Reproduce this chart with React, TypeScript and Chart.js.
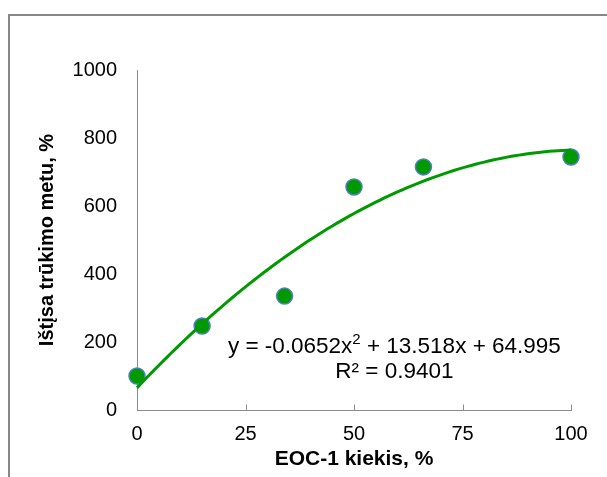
import React, { useEffect, useRef } from "react";
import { Chart, registerables } from "chart.js";

Chart.register(...registerables);

const xValues = [0, 15, 34, 50, 66, 100];
const yValues = [100, 247, 335, 656, 715, 744];
const trendCoefficients = [-0.0652, 13.518, 64.995]; // a x^2 + b x + c (from the chart's equation)
const trendXs = Array.from({ length: 101 }, (_, i) => i);
const xTicks = [0, 25, 50, 75, 100];
const yTicks = [0, 200, 400, 600, 800, 1000];
const xTitle = "EOC-1 kiekis, %";
const yTitle = "Ištįsa trūkimo metu, %";
const eqLine1a = "y = -0.0652x";
const eqLine1sup = "2";
const eqLine1b = " + 13.518x + 64.995";
const eqLine2 = "R² = 0.9401";

const FONT = "'Liberation Sans', Arial, sans-serif";

export default function App() {
  const ref = useRef<HTMLCanvasElement | null>(null);
  useEffect(() => {
    if (!ref.current) return;
    const [a, b, c] = trendCoefficients;
    const trend = trendXs.map((x) => ({ x, y: a * x * x + b * x + c }));
    const points = xValues.map((x, i) => ({ x, y: yValues[i] }));

    const decor = {
      id: "decor",
      beforeDraw(chart: any) {
        const ctx = chart.ctx;
        ctx.save();
        ctx.strokeStyle = "#878787";
        ctx.lineWidth = 2;
        ctx.beginPath();
        ctx.moveTo(9, 477);
        ctx.lineTo(9, 15);
        ctx.lineTo(607, 15);
        ctx.stroke();
        ctx.restore();
      },
      afterDraw(chart: any) {
        const ctx = chart.ctx;
        const xs = chart.scales.x;
        const ys = chart.scales.y;
        ctx.save();
        ctx.strokeStyle = "#8c8c8c";
        ctx.lineWidth = 1;
        const base = Math.round(ys.getPixelForValue(0)) + 0.5;
        xTicks.forEach((v) => {
          if (v === 0) return;
          const px = Math.round(xs.getPixelForValue(v)) + 0.5;
          ctx.beginPath();
          ctx.moveTo(px, base);
          ctx.lineTo(px, base - 6);
          ctx.stroke();
        });
        // equation text
        ctx.fillStyle = "#000";
        ctx.textBaseline = "middle";
        const cx = xs.getPixelForValue(59.3);
        const y1 = ys.getPixelForValue(185);
        const y2 = ys.getPixelForValue(112);
        const big = `22.5px ${FONT}`;
        const small = `15px ${FONT}`;
        ctx.font = big;
        const wa = ctx.measureText(eqLine1a).width;
        const wb = ctx.measureText(eqLine1b).width;
        ctx.font = small;
        const ws = ctx.measureText(eqLine1sup).width;
        const total = wa + ws + wb;
        const x0 = cx - total / 2;
        ctx.textAlign = "left";
        ctx.font = big;
        ctx.fillText(eqLine1a, x0, y1);
        ctx.font = small;
        ctx.fillText(eqLine1sup, x0 + wa, y1 - 7);
        ctx.font = big;
        ctx.fillText(eqLine1b, x0 + wa + ws, y1);
        ctx.textAlign = "center";
        ctx.fillText(eqLine2, cx, y2);
        ctx.restore();
      },
    };

    const chart = new Chart(ref.current, {
      type: "scatter",
      data: {
        datasets: [
          {
            label: "Trend",
            data: trend,
            showLine: true,
            borderColor: "#009a00",
            borderWidth: 3,
            pointRadius: 0,
            fill: false,
            clip: false,
          },
          {
            label: "Data",
            data: points,
            backgroundColor: "#009900",
            borderColor: "#4f7fc0",
            borderWidth: 1.5,
            pointRadius: 8,
            clip: false,
          },
        ],
      },
      options: {
        animation: false,
        responsive: false,
        devicePixelRatio: 1,
        layout: { padding: { top: 70, right: 36, left: 0, bottom: 0 } },
        plugins: { legend: { display: false }, tooltip: { enabled: false } },
        scales: {
          x: {
            type: "linear",
            min: 0,
            max: 100,
            afterBuildTicks: (s: any) => {
              s.ticks = xTicks.map((v) => ({ value: v }));
            },
            afterFit: (s: any) => {
              s.height = 67;
            },
            grid: { display: false, drawTicks: false },
            border: { display: true, color: "#8c8c8c", width: 1 },
            ticks: {
              color: "#000",
              font: { family: FONT, size: 20 },
              padding: 12,
              maxRotation: 0,
              callback: (v: any) => String(v),
            },
            title: {
              display: true,
              text: xTitle,
              color: "#000",
              font: { family: FONT, size: 21, weight: "bold" },
              padding: { top: 0, bottom: 5 },
            },
          },
          y: {
            type: "linear",
            min: 0,
            max: 1000,
            afterBuildTicks: (s: any) => {
              s.ticks = yTicks.map((v) => ({ value: v }));
            },
            afterFit: (s: any) => {
              s.width = 137;
            },
            grid: { display: false, drawTicks: false },
            border: { display: true, color: "#8c8c8c", width: 1 },
            ticks: {
              color: "#000",
              font: { family: FONT, size: 20 },
              padding: 20,
              callback: (v: any) => String(v),
            },
            title: {
              display: true,
              text: yTitle,
              color: "#000",
              font: { family: FONT, size: 20, weight: "bold" },
              padding: { top: 35, bottom: 0 },
            },
          },
        },
      },
      plugins: [decor],
    } as any);
    return () => chart.destroy();
  }, []);

  return (
    <div style={{ position: "absolute", left: 0, top: 0, width: 607, height: 477, background: "#fff" }}>
      <canvas ref={ref} width={607} height={477} style={{ display: "block" }} />
    </div>
  );
}
